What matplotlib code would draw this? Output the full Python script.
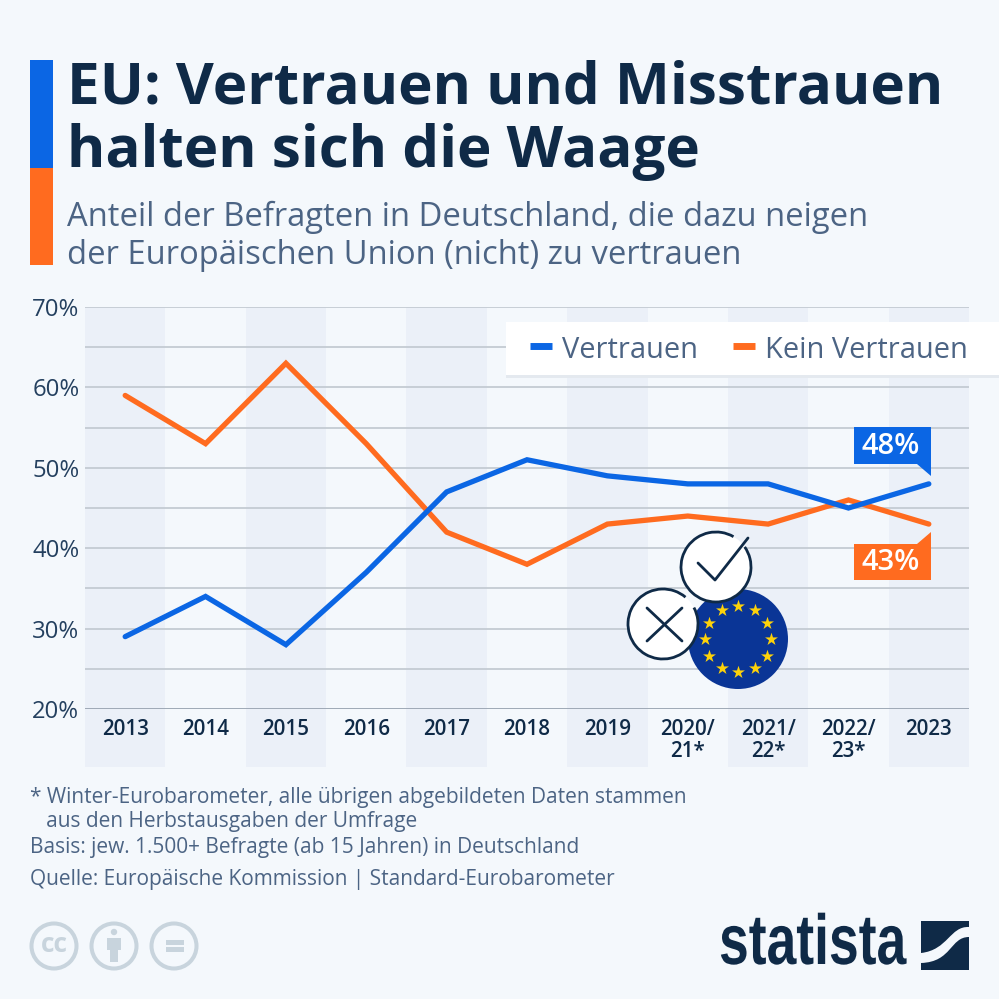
import matplotlib
matplotlib.use('Agg')
import matplotlib.pyplot as plt
from matplotlib.patches import Rectangle, Circle, Polygon, Arc, PathPatch
from matplotlib.path import Path
from matplotlib.patheffects import AbstractPathEffect
from matplotlib.transforms import Affine2D
import numpy as np

categories = ['2013', '2014', '2015', '2016', '2017', '2018', '2019', '2020/\n21*', '2021/\n22*', '2022/\n23*', '2023']
vertrauen = [29, 34, 28, 37, 47, 51, 49, 48, 48, 45, 48]
kein_vertrauen = [59, 53, 63, 53, 42, 38, 43, 44, 43, 46, 43]
y_ticks = [20, 30, 40, 50, 60, 70]
y_grid = [25, 30, 35, 40, 45, 50, 55, 60, 65, 70]

BG = '#f4f8fc'
BAND = '#ebf0f8'
BLUE = '#0b66e4'
ORANGE = '#ff6b1f'
NAVY = '#0f2a47'
SUB = '#4c6484'
GRID = '#c4cbd3'
LIGHT = '#c8d4dd'

plt.rcParams['font.family'] = ['Open Sans', 'DejaVu Sans']


class SqueezeX(AbstractPathEffect):
    # narrows text sideways, there is no condensed font installed for the logo
    def __init__(self, x0, factor):
        super().__init__()
        self.x0 = x0
        self.factor = factor

    def draw_path(self, renderer, gc, tpath, affine, rgbFace=None):
        squeeze = Affine2D().translate(-self.x0, 0).scale(self.factor, 1).translate(self.x0, 0)
        renderer.draw_path(gc, tpath, affine + squeeze, rgbFace)


fig = plt.figure(figsize=(9.99, 9.99), dpi=100, facecolor=BG)

# chart axes, placed in pixels
ax = fig.add_axes([85 / 999, 1 - 709 / 999, 884 / 999, 402 / 999], facecolor='none')
x = np.arange(len(categories))
ax.set_xlim(-0.5, 10.5)
ax.set_ylim(20, 70)

# bands run on below the axis, behind the tick labels
band_bottom = 20 - 58 / 402 * 50
for i in x[::2]:
    ax.bar(i, 70 - band_bottom, width=1, bottom=band_bottom, color=BAND, clip_on=False, zorder=0)

for g in y_grid:
    ax.axhline(g, color=GRID, lw=1.3, zorder=1)
ax.axhline(20, color='#98a3b0', lw=1.3, zorder=1)

ax.plot(x, kein_vertrauen, color=ORANGE, lw=3.8, solid_joinstyle='miter', solid_capstyle='round', zorder=3)
ax.plot(x, vertrauen, color=BLUE, lw=3.8, solid_joinstyle='miter', solid_capstyle='round', zorder=4)

for s in ax.spines.values():
    s.set_visible(False)
ax.set_xticks(x)
ax.set_xticklabels(categories, fontsize=14.8, fontweight='semibold', color=NAVY, linespacing=1.05, va='top')
ax.set_yticks(y_ticks)
ax.set_yticklabels([f'{t}%' for t in y_ticks], fontsize=17.2, color='#24405f')
ax.tick_params(axis='x', length=0, pad=7)
ax.tick_params(axis='y', length=0, pad=4)

# overlay in pixel coordinates for all the infographic furniture
ov = fig.add_axes([0, 0, 1, 1], facecolor='none')
ov.set_xlim(0, 999)
ov.set_ylim(999, 0)
ov.axis('off')

ov.add_patch(Rectangle((30, 60), 23, 108, color=BLUE, lw=0))
ov.add_patch(Rectangle((30, 168), 23, 97, color=ORANGE, lw=0))

ov.text(67, 88, 'EU: Vertrauen und Misstrauen', fontsize=42.05, fontweight='bold', color=NAVY, va='center')
ov.text(67, 152, 'halten sich die Waage', fontsize=42.05, fontweight='bold', color=NAVY, va='center')
ov.text(67, 217, 'Anteil der Befragten in Deutschland, die dazu neigen', fontsize=23.55, color=SUB, va='center')
ov.text(67, 256, 'der Europäischen Union (nicht) zu vertrauen', fontsize=23.55, color=SUB, va='center')

# legend box
ov.add_patch(Rectangle((506, 322), 493, 53, color='white', lw=0, zorder=5))
ov.add_patch(Rectangle((506, 375), 493, 3, color='#e4e9ef', lw=0, zorder=4))
ov.plot([530, 552], [346, 346], color=BLUE, lw=5, zorder=6, solid_capstyle='butt')
ov.plot([733, 755], [346, 346], color=ORANGE, lw=5, zorder=6, solid_capstyle='butt')
ov.text(562, 350, 'Vertrauen', fontsize=20.9, color=SUB, va='center', zorder=6)
ov.text(765, 350, 'Kein Vertrauen', fontsize=20.9, color=SUB, va='center', zorder=6)

# callouts for the last values
ov.add_patch(Polygon([(854, 427), (931, 427), (931, 476), (917, 464), (854, 464)], color=BLUE, lw=0, zorder=6))
ov.add_patch(Polygon([(854, 544), (917, 544), (931, 532), (931, 580), (854, 580)], color=ORANGE, lw=0, zorder=6))
ov.text(891, 446, f'{vertrauen[-1]}%', fontsize=21, fontweight='semibold', color='white', ha='center', va='center', zorder=7)
ov.text(891, 563, f'{kein_vertrauen[-1]}%', fontsize=21, fontweight='semibold', color='white', ha='center', va='center', zorder=7)

# EU flag icon
ov.add_patch(Circle((738, 639), 50, color='#0a3596', lw=0, zorder=6))
ang = np.deg2rad(np.arange(0, 360, 30))
ov.scatter(738 + 33 * np.cos(ang), 639 + 33 * np.sin(ang), marker='*', s=95, color='#fdd20a', lw=0, zorder=7)

# check and cross circles
ov.add_patch(Circle((716, 567), 35, color='white', lw=0, zorder=8))
ov.add_patch(Arc((716, 567), 70, 70, theta1=-35, theta2=300, color=NAVY, lw=2, zorder=9))
ov.plot([698, 715, 748], [563, 580, 538], color=NAVY, lw=2, zorder=9, solid_capstyle='round')
ov.add_patch(Circle((663, 624), 35, color='white', lw=0, zorder=8))
ov.add_patch(Arc((663, 624), 70, 70, theta1=-28, theta2=310, color=NAVY, lw=2, zorder=9))
ov.plot([647, 682], [608, 641], color=NAVY, lw=2, zorder=9, solid_capstyle='round')
ov.plot([682, 647], [608, 641], color=NAVY, lw=2, zorder=9, solid_capstyle='round')

# footnotes
ov.text(30, 797, '* Winter-Eurobarometer, alle übrigen abgebildeten Daten stammen', fontsize=15, color=SUB, va='center')
ov.text(30, 822, '   aus den Herbstausgaben der Umfrage', fontsize=15, color=SUB, va='center')
ov.text(30, 847, 'Basis: jew. 1.500+ Befragte (ab 15 Jahren) in Deutschland', fontsize=15, color=SUB, va='center')
ov.text(30, 879, 'Quelle: Europäische Kommission | Standard-Eurobarometer', fontsize=15, color=SUB, va='center')

# licence icons
for cx in [54, 114, 174]:
    ov.add_patch(Circle((cx, 946), 22.5, fill=False, ec=LIGHT, lw=2.9))
ov.text(54, 945, 'cc', fontsize=19, fontweight='bold', color=LIGHT, ha='center', va='center')
ov.add_patch(Circle((114, 932), 3.2, color=LIGHT, lw=0))
ov.add_patch(Rectangle((107, 938), 14, 12, color=LIGHT, lw=0))
ov.add_patch(Rectangle((110, 950), 8, 12, color=LIGHT, lw=0))
ov.add_patch(Rectangle((166, 940), 18, 5, color=LIGHT, lw=0))
ov.add_patch(Rectangle((166, 947), 18, 5, color=LIGHT, lw=0))

# statista logo
logo = ov.text(719, 946, 'statista', fontsize=51, fontweight='bold', color=NAVY, ha='left', va='center',
               family=['Liberation Sans', 'DejaVu Sans'])
logo.set_path_effects([SqueezeX(719, 0.755)])
ov.add_patch(Rectangle((921, 921), 48, 49, color=NAVY, lw=0))
band = Path([(969, 927), (950, 926), (948, 950), (921, 953), (921, 963), (952, 962), (950, 937), (969, 937), (969, 927)],
            [Path.MOVETO, Path.CURVE4, Path.CURVE4, Path.CURVE4, Path.LINETO, Path.CURVE4, Path.CURVE4, Path.CURVE4, Path.CLOSEPOLY])
ov.add_patch(PathPatch(band, facecolor=BG, lw=0, zorder=5))

fig.savefig('out.png', dpi=100, facecolor=BG)
